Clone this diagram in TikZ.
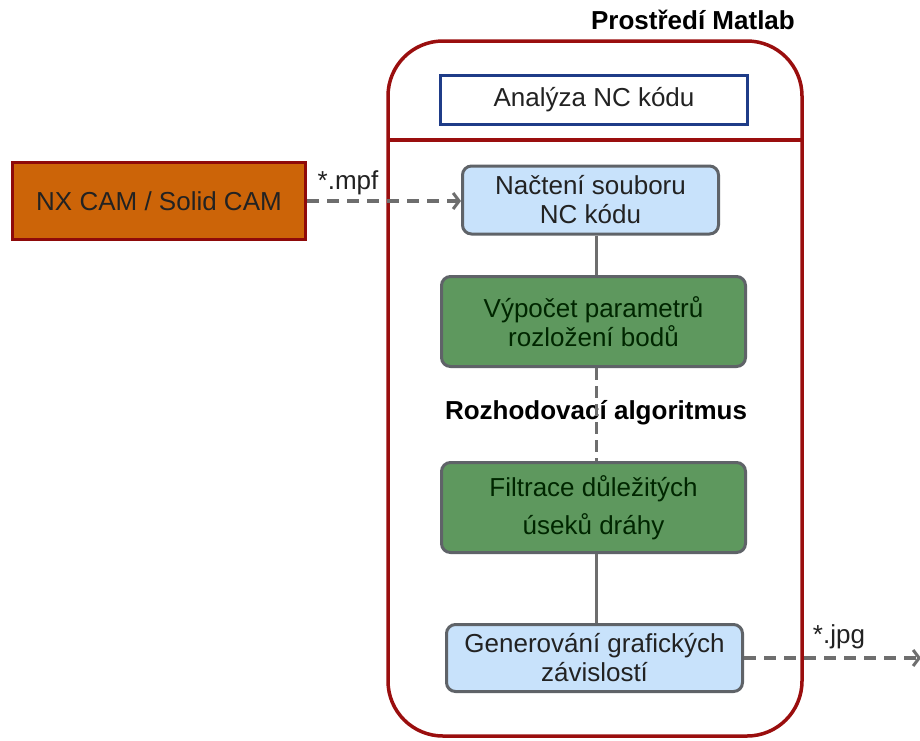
\documentclass[tikz,border=0pt]{standalone}
\usepackage{fontspec}
\setmainfont{Liberation Sans}
\usetikzlibrary{arrows.meta}
\definecolor{contred}{HTML}{9A0E0E}
\definecolor{navy}{HTML}{1F3C88}
\definecolor{orangefill}{HTML}{CC6408}
\definecolor{darkred}{HTML}{8E0A0A}
\definecolor{lblue}{HTML}{C8E2FB}
\definecolor{gfill}{HTML}{5E985E}
\definecolor{bgrey}{HTML}{5F6368}
\definecolor{lgrey}{HTML}{6E6E6E}
\definecolor{txt}{HTML}{222222}
\begin{document}
\begin{tikzpicture}[x=1pt,y=-1pt,
  every node/.style={font=\fontsize{26}{29}\selectfont, text=txt, align=center, inner sep=0pt},
  stepbox/.style={draw=bgrey, line width=3pt, rounded corners=9pt},
  bluebox/.style={stepbox, fill=lblue},
  greenbox/.style={stepbox, fill=gfill, text=black!85!green},
  conn/.style={draw=lgrey, line width=3pt},
  dconn/.style={draw=lgrey, line width=3.5pt, dash pattern=on 12pt off 8pt},
  arr/.style={dconn, -{Straight Barb[length=6pt,width=16pt,line width=3pt]}},
  title/.style={font=\bfseries\fontsize{26}{30}\selectfont, text=black}
]
\useasboundingbox (0,0) rectangle (920,740);
\fill[white] (0,0) rectangle (920,740);
% container
\draw[draw=contred, line width=3.5pt, rounded corners=55pt] (388,41) rectangle (802,736);
\draw[draw=contred, line width=3.5pt] (388,140) -- (802,140);
\node[title, anchor=base] (envtitle) at (693,29) {Prostředí Matlab};
% header box
\node[draw=navy, line width=3pt, minimum width=307pt, minimum height=49pt] (analyza) at (594,99.5) {Analýza NC kódu};
% source
\node[draw=darkred, line width=3pt, fill=orangefill, minimum width=293pt, minimum height=77pt] (nx) at (159,201) {NX CAM / Solid CAM};
% steps
\node[bluebox, minimum width=256pt, minimum height=68pt] (nacteni) at (590.5,200) {Načtení souboru\\NC kódu};
\node[greenbox, minimum width=304pt, minimum height=90pt] (vypocet) at (593.5,321.5) {Výpočet parametrů\\rozložení bodů};
\node[title, anchor=base] (rozh) at (596,419) {Rozhodovací algoritmus};
\node[greenbox, minimum width=304pt, minimum height=90pt, font=\fontsize{26}{38}\selectfont] (filtrace) at (593.5,507.5) {Filtrace důležitých\\úseků dráhy};
\node[bluebox, minimum width=296pt, minimum height=67pt] (gener) at (594.5,658) {Generování grafických\\závislostí};
% connectors
\draw[conn] (nacteni.south -| 596,0) -- (vypocet.north -| 596,0);
\draw[conn, dash pattern=on 12pt off 6pt] (vypocet.south -| 596,0) -- (filtrace.north -| 596,0);
\draw[conn] (filtrace.south -| 596,0) -- (gener.north -| 596,0);
% flows
\draw[arr] (nx.east |- 0,201) -- (nacteni.west |- 0,201);
\node[anchor=base] (mpf) at (348,189) {*.mpf};
\coordinate (out) at (921,658);
\draw[arr] (gener.east) -- (out);
\node[anchor=base] (jpg) at (839,643) {*.jpg};
\end{tikzpicture}
\end{document}
